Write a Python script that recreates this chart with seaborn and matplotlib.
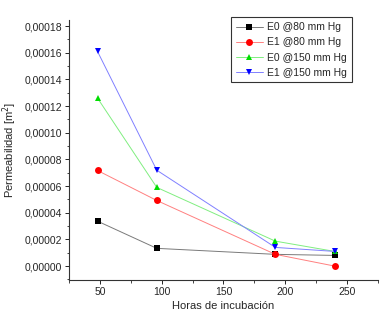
import matplotlib
matplotlib.use("Agg")
import matplotlib.pyplot as plt
import seaborn as sns
import pandas as pd
from matplotlib.ticker import MultipleLocator, FuncFormatter

horas = [48, 96, 192, 240]
e0_80 = [3.37e-5, 1.33e-5, 0.88e-5, 0.8e-5]
e1_80 = [7.17e-5, 4.92e-5, 0.88e-5, 0.0]
e0_150 = [12.6e-5, 5.9e-5, 1.87e-5, 1.1e-5]
e1_150 = [16.1e-5, 7.19e-5, 1.4e-5, 1.1e-5]
labels = ["E0 @80 mm Hg", "E1 @80 mm Hg", "E0 @150 mm Hg", "E1 @150 mm Hg"]

sns.set_theme(style="ticks")
plt.rcParams['font.family'] = ['Liberation Sans', 'DejaVu Sans']

fig = plt.figure(figsize=(3.86, 3.19), dpi=100)
ax = fig.add_axes([0.179, 0.122, 0.8, 0.815])

series = [e0_80, e1_80, e0_150, e1_150]
colors = ["black", "red", "#00dd00", "blue"]
light = ["#7a7a7a", "#ff8080", "#80ee80", "#8080ff"]
markers = ["s", "o", "^", "v"]
for vals, lab, c, m in zip(series, labels, colors, markers):
    df = pd.DataFrame({"x": horas, "y": vals})
    sns.lineplot(data=df, x="x", y="y", ax=ax, color=c, marker=m, markersize=5,
                 markeredgewidth=0, linewidth=0.7, label=lab)
for ln, c, lc in zip(ax.get_lines(), colors, light):
    ln.set_markerfacecolor(c)
    ln.set_markeredgecolor(c)
    ln.set_color(lc)

ax.set_xlim(25, 275)
ax.set_ylim(-1.05e-5, 1.845e-4)
ax.xaxis.set_major_locator(MultipleLocator(50))
ax.xaxis.set_minor_locator(MultipleLocator(25))
ax.yaxis.set_major_locator(MultipleLocator(2e-5))
ax.yaxis.set_minor_locator(MultipleLocator(1e-5))
ax.yaxis.set_major_formatter(FuncFormatter(lambda v, p: ("%.5f" % v).replace(".", ",").replace("-0,00000", "0,00000")))
ax.tick_params(axis='both', which='major', labelsize=7.5, length=3, width=0.7, direction='out', pad=2)
ax.tick_params(axis='both', which='minor', length=1.8, width=0.6, direction='out')
for s in ["top", "right"]:
    ax.spines[s].set_visible(False)
for s in ["left", "bottom"]:
    ax.spines[s].set_linewidth(0.8)
    ax.spines[s].set_color("#333333")

ax.set_xlabel("Horas de incubación", fontsize=8, labelpad=3)
ax.set_ylabel("Permeabilidad [m$^2$]", fontsize=8, labelpad=4)

handles, labs = ax.get_legend_handles_labels()
leg = ax.legend(handles, labs, loc="upper right", bbox_to_anchor=(0.915, 1.01), fontsize=7.5, frameon=True,
                fancybox=False, borderpad=0.45, labelspacing=0.5, handlelength=2.6,
                handletextpad=0.4, borderaxespad=0)
leg.get_frame().set_edgecolor("black")
leg.get_frame().set_linewidth(0.8)

fig.savefig("out.png", dpi=100)
